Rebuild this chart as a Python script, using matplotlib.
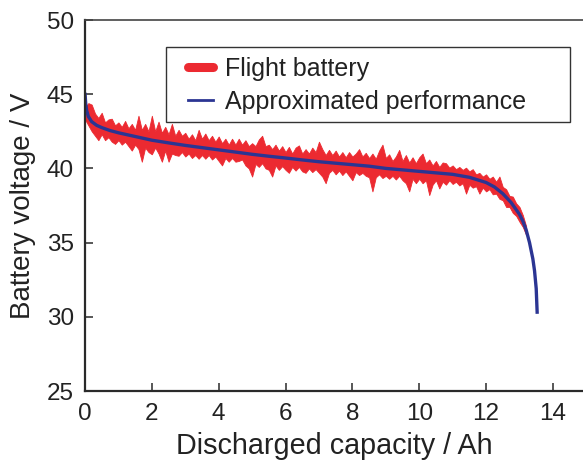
import numpy as np
import matplotlib
matplotlib.use("Agg")
import matplotlib.pyplot as plt
from matplotlib.lines import Line2D
from matplotlib.patches import Rectangle

plt.rcParams['font.family'] = ['Liberation Sans', 'DejaVu Sans']

# Flight battery measured band (x in Ah, upper/lower envelope in V)
red_x = [round(0.1 * i, 1) for i in range(133)]
red_upper = [44.1, 44.4, 44.3, 43.7, 43.4, 43.75, 43.1, 43.3, 43.35, 42.9,
             43.1, 42.8, 43.2, 42.7, 43.0, 42.6, 43.55, 42.6, 43.0, 42.5,
             43.55, 42.5, 43.15, 42.4, 42.8, 42.3, 43.0, 42.2, 42.6, 42.2,
             42.4, 42.0, 42.3, 41.9, 42.6, 42.0, 42.35, 41.9, 42.2, 41.8,
             42.15, 41.7, 42.0, 41.6, 42.0, 41.6, 42.0, 41.6, 41.9, 41.5,
             41.7, 41.5, 41.95, 42.2, 41.5, 41.6, 41.3, 41.6, 41.2, 41.5,
             41.1, 41.45, 41.0, 41.4, 41.55, 41.0, 41.3, 41.0, 41.4, 41.1,
             41.8, 41.3, 40.9, 41.25, 40.9, 41.2, 40.8, 41.1, 40.75, 41.1,
             40.8, 41.0, 41.3, 40.8, 41.05, 40.7, 41.0, 40.65, 41.2, 41.6,
             40.7, 40.95, 40.5, 40.8, 41.25, 40.5, 40.9, 40.4, 40.75, 40.35,
             40.75, 41.0, 40.35, 40.6, 40.2, 40.5, 40.1, 40.4, 40.35, 40.05,
             40.2, 39.95, 40.1, 39.9, 40.05, 39.8, 39.95, 39.6, 39.7, 39.45,
             39.6, 39.3, 39.45, 39.1, 39.45, 38.75, 38.6, 38.15, 38.1, 37.65,
             37.4, 36.85, 36.1]
red_lower = [43.3, 42.9, 42.5, 42.2, 41.9, 42.3, 41.9, 42.1, 41.8, 41.65,
             41.9, 41.6, 41.8, 41.5, 41.2, 41.6, 41.3, 40.45, 41.4, 41.1,
             40.95, 41.4, 41.0, 40.45, 41.2, 40.45, 41.0, 40.9, 40.85, 41.1,
             40.8, 41.0, 40.7, 40.9, 40.65, 40.9, 40.65, 40.9, 40.6, 40.8,
             40.5, 40.2, 40.7, 40.45, 40.7, 40.45, 40.5, 40.6, 40.2, 40.0,
             39.45, 40.3, 40.1, 40.35, 40.0, 39.9, 39.45, 40.2, 39.9, 40.15,
             39.9, 39.7, 40.1, 39.85, 40.1, 39.8, 39.7, 40.0, 39.75, 39.95,
             39.7, 39.45, 39.0, 39.7, 39.9, 39.6, 39.85, 39.55, 39.8, 39.5,
             39.2, 39.75, 39.55, 39.7, 39.5, 39.4, 38.45, 39.4, 39.6, 39.35,
             39.5, 39.3, 39.5, 39.25, 39.5, 39.2, 39.0, 38.45, 39.3, 39.0,
             39.3, 39.0, 39.2, 38.2, 38.9, 39.2, 38.65, 39.1, 38.9, 39.2,
             38.95, 39.1, 38.85, 39.0, 38.3, 38.9, 38.7, 38.8, 38.3, 38.7,
             38.45, 38.6, 38.25, 38.3, 37.95, 37.85, 37.4, 37.4, 37.0, 36.8,
             36.4, 36.05, 35.5]

# Approximated performance curve
fit_x = [0.0, 0.02, 0.05, 0.1, 0.2, 0.35, 0.5, 0.75, 1.0, 1.5, 2.0, 2.5, 3.0,
         3.5, 4.0, 4.5, 5.0, 5.5, 6.0, 6.5, 7.0, 7.5, 8.0, 8.5, 9.0, 9.5,
         10.0, 10.5, 11.0, 11.5, 12.0, 12.25, 12.5, 12.75, 13.0, 13.1, 13.2,
         13.3, 13.4, 13.45, 13.5, 13.53]
fit_y = [45.1, 44.4, 43.9, 43.5, 43.15, 42.9, 42.75, 42.55, 42.4, 42.15, 41.9,
         41.72, 41.55, 41.4, 41.25, 41.1, 40.95, 40.82, 40.7, 40.57, 40.45,
         40.35, 40.25, 40.15, 40.0, 39.9, 39.8, 39.7, 39.6, 39.4, 39.05,
         38.75, 38.3, 37.7, 36.9, 36.45, 35.85, 35.0, 33.9, 33.1, 31.9, 30.2]

x_ticks = [0, 2, 4, 6, 8, 10, 12, 14]
y_ticks = [25, 30, 35, 40, 45, 50]

RED = '#ec2a31'
BLUE = '#2b3593'
SPINE = '#2a2a2a'

fig = plt.figure(figsize=(5.83, 4.68), dpi=100)
ax = fig.add_axes([85 / 583, 1 - 391 / 468, 1 - 85 / 583, (391 - 20) / 468])

ax.fill_between(red_x, red_lower, red_upper, color=RED, linewidth=0.6,
                edgecolor=RED)
ax.plot(fit_x, fit_y, color=BLUE, lw=2.4, solid_capstyle='butt')

ax.set_xlim(0, 14.9)
ax.set_ylim(25, 50)
ax.set_xticks(x_ticks)
ax.set_yticks(y_ticks)

for side in ['left', 'bottom']:
    ax.spines[side].set_linewidth(1.6)
    ax.spines[side].set_color(SPINE)
ax.spines['top'].set_linewidth(1.2)
ax.spines['top'].set_color('#444444')
ax.spines['right'].set_visible(False)

ax.tick_params(direction='in', length=6, width=1.1, color=SPINE,
               labelsize=17.5, labelcolor='#222222', pad=8)
ax.tick_params(axis='x', pad=9)
ax.tick_params(top=False, right=False)

ax.set_xlabel('Discharged capacity / Ah', fontsize=20.7, color='#222222',
              labelpad=5)
ax.set_ylabel('Battery voltage / V', fontsize=20, color='#222222',
              labelpad=8)

# legend frame drawn separately
frame = Rectangle((0.1627, 0.7251), 0.8112, 0.2022, transform=ax.transAxes,
                  facecolor='white', edgecolor='#333333', linewidth=1.0,
                  zorder=4)
ax.add_patch(frame)

handles = [Line2D([], [], color=RED, lw=6.5, solid_capstyle='round'),
           Line2D([], [], color=BLUE, lw=2)]
leg = ax.legend(handles, ['Flight battery', 'Approximated performance'],
                loc='upper left', bbox_to_anchor=(0.2068, 0.9003),
                borderaxespad=0, fontsize=18, frameon=False,
                handlelength=1.0, handletextpad=0.5, labelspacing=0.35,
                borderpad=0)
leg.set_zorder(5)
for t in leg.get_texts():
    t.set_color('#222222')

fig.savefig('out.png', dpi=100)
